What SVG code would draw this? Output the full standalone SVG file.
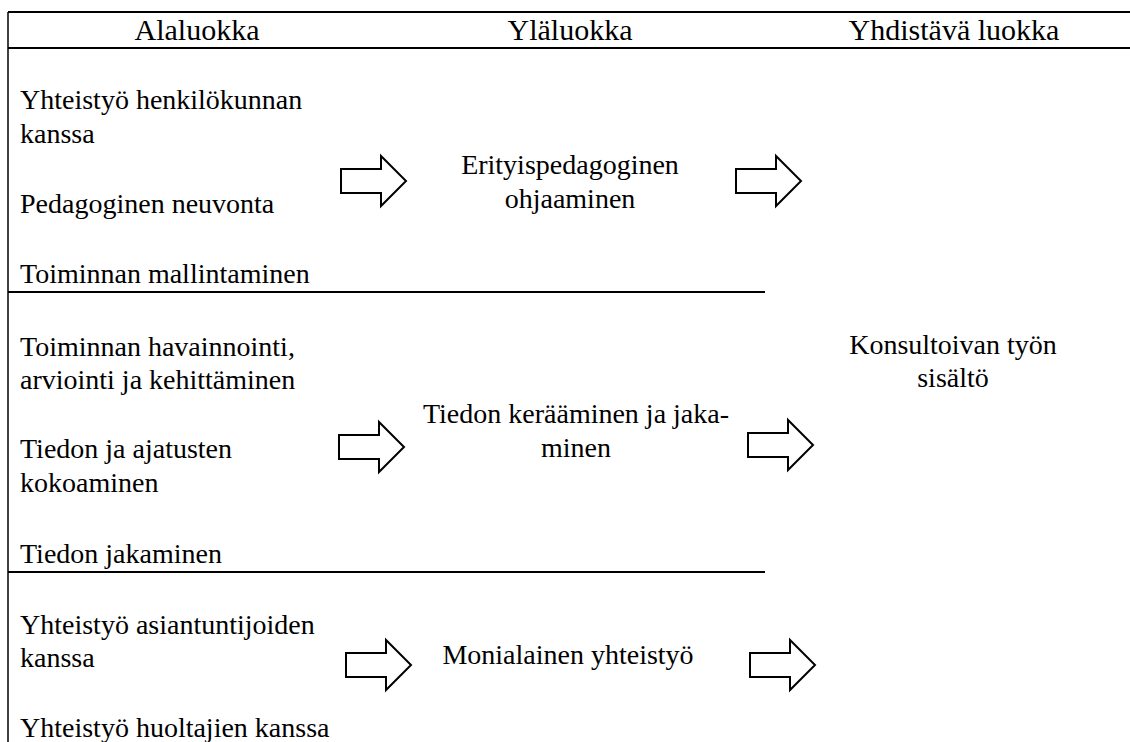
<svg xmlns="http://www.w3.org/2000/svg" width="1130" height="742" viewBox="0 0 1130 742">
  <style>
    .rule { stroke: #000; stroke-width: 2; fill: none; }
    .edge { stroke: #000; stroke-width: 1.5; fill: none; }
    .t { font-family: 'Liberation Serif', 'DejaVu Serif', serif; font-size: 28px; fill: #000; }
    .head { font-size: 30px; text-anchor: middle; }
    .mid { text-anchor: middle; }
    .arrow { fill: #fff; stroke: #000; stroke-width: 2; stroke-linejoin: miter; }
  </style>
  <defs>
    <!-- block arrow, origin at the left end of the shaft, vertically centred -->
    <path id="blockArrow" d="M0,-12 H40 V-25 L65,0 L40,25 V12 H0 Z"/>
  </defs>

  <!-- table frame -->
  <g id="frame">
    <line class="rule" x1="8" y1="12" x2="1130" y2="12"/>
    <line class="rule" x1="8" y1="48" x2="1130" y2="48"/>
    <line class="edge" x1="8" y1="12" x2="8" y2="742"/>
    <line class="rule" x1="8" y1="292" x2="765" y2="292"/>
    <line class="rule" x1="8" y1="572" x2="765" y2="572"/>
  </g>

  <!-- column headings -->
  <g id="headings" class="t">
    <text class="head" x="197" y="40">Alaluokka</text>
    <text class="head" x="570" y="40">Yläluokka</text>
    <text class="head" x="954" y="40">Yhdistävä luokka</text>
  </g>

  <!-- subcategories -->
  <g id="sub-ohjaus" class="t">
    <text x="20" y="109">Yhteistyö henkilökunnan</text>
    <text x="20" y="143">kanssa</text>
    <text x="20" y="213">Pedagoginen neuvonta</text>
    <text x="20" y="283">Toiminnan mallintaminen</text>
  </g>
  <g id="sub-tieto" class="t">
    <text x="20" y="356">Toiminnan havainnointi,</text>
    <text x="20" y="389">arviointi ja kehittäminen</text>
    <text x="20" y="458">Tiedon ja ajatusten</text>
    <text x="20" y="492">kokoaminen</text>
    <text x="20" y="563">Tiedon jakaminen</text>
  </g>
  <g id="sub-yhteistyo" class="t">
    <text x="20" y="634">Yhteistyö asiantuntijoiden</text>
    <text x="20" y="667">kanssa</text>
    <text x="20" y="737">Yhteistyö huoltajien kanssa</text>
  </g>

  <!-- upper categories -->
  <g id="upper-ohjaus" class="t">
    <text class="mid" x="570" y="174">Erityispedagoginen</text>
    <text class="mid" x="570" y="208">ohjaaminen</text>
  </g>
  <g id="upper-tieto" class="t">
    <text class="mid" x="576" y="423">Tiedon kerääminen ja jaka-</text>
    <text class="mid" x="576" y="457">minen</text>
  </g>
  <g id="upper-yhteistyo" class="t">
    <text class="mid" x="568" y="664">Monialainen yhteistyö</text>
  </g>

  <!-- combining category -->
  <g id="combined" class="t">
    <text class="mid" x="953" y="354">Konsultoivan työn</text>
    <text class="mid" x="953" y="387">sisältö</text>
  </g>

  <!-- arrows -->
  <g id="connectors">
    <use href="#blockArrow" class="arrow" x="341" y="181"/>
    <use href="#blockArrow" class="arrow" x="736" y="181"/>
    <use href="#blockArrow" class="arrow" x="339" y="447"/>
    <use href="#blockArrow" class="arrow" x="748" y="445"/>
    <use href="#blockArrow" class="arrow" x="346" y="665"/>
    <use href="#blockArrow" class="arrow" x="750" y="665"/>
  </g>
</svg>
